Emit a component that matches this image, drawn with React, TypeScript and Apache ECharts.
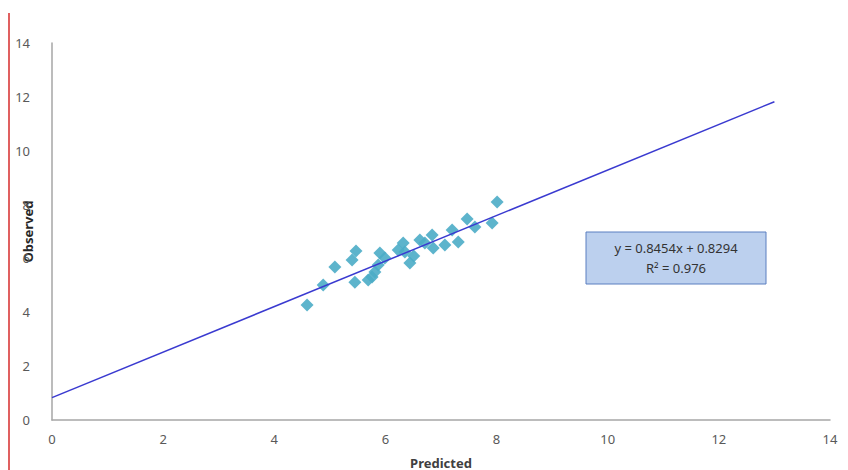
import React, { useEffect, useRef } from "react";
import * as echarts from "echarts";

const predicted = [
  4.59, 4.88, 5.09, 5.45, 5.40, 5.47, 5.69, 5.76, 5.81, 5.87, 5.90, 5.99, 6.23, 6.32,
  6.35, 6.44, 6.51, 6.62, 6.71, 6.84, 6.86, 7.07, 7.20, 7.31, 7.47, 7.61, 7.92, 8.01,
];
const observed = [
  4.27, 5.01, 5.68, 5.12, 5.94, 6.28, 5.20, 5.31, 5.50, 5.76, 6.20, 6.02, 6.31, 6.57,
  6.24, 5.83, 6.09, 6.68, 6.57, 6.87, 6.39, 6.50, 7.06, 6.61, 7.46, 7.17, 7.32, 8.10,
];
const slope = 0.8454;
const intercept = 0.8294;
const rSquared = 0.976;
const trendStart = 0;
const trendEnd = 13;
const axisTicks = [0, 2, 4, 6, 8, 10, 12, 14];

export default function App() {
  const ref = useRef<HTMLDivElement>(null);
  useEffect(() => {
    if (!ref.current) return;
    const chart = echarts.init(ref.current, null, { renderer: "svg" });
    const font = "'Noto Sans', 'Liberation Sans', sans-serif";
    const axisMin = axisTicks[0];
    const axisMax = axisTicks[axisTicks.length - 1];
    const step = axisTicks[1] - axisTicks[0];
    chart.setOption({
      animation: false,
      backgroundColor: "#ffffff",
      grid: { left: 52, right: 18, top: 43, bottom: 50, containLabel: false, outerBoundsMode: "none" },
      xAxis: {
        type: "value",
        min: axisMin,
        max: axisMax,
        interval: step,
        name: "Predicted",
        nameLocation: "middle",
        nameGap: 36,
        nameMoveOverlap: false,
        nameTextStyle: { fontFamily: font, fontSize: 13, fontWeight: "bold", color: "#404040" },
        axisLine: { show: true, lineStyle: { color: "#a6a6a6", width: 1.5 } },
        axisTick: { show: false },
        splitLine: { show: false },
        axisLabel: { fontFamily: font, fontSize: 13, color: "#595959", margin: 12 },
      },
      yAxis: {
        type: "value",
        min: axisMin,
        max: axisMax,
        interval: step,
        name: "Observed",
        nameLocation: "middle",
        nameGap: 18,
        nameRotate: 90,
        nameMoveOverlap: false,
        nameTextStyle: { fontFamily: font, fontSize: 13, fontWeight: "bold", color: "#262626" },
        axisLine: { show: true, lineStyle: { color: "#a6a6a6", width: 1.5 } },
        axisTick: { show: false },
        splitLine: { show: false },
        axisLabel: { fontFamily: font, fontSize: 13, color: "#595959", margin: 22 },
      },
      series: [
        {
          type: "line",
          data: [
            [trendStart, slope * trendStart + intercept],
            [trendEnd, slope * trendEnd + intercept],
          ],
          showSymbol: false,
          symbol: "none",
          lineStyle: { color: "#3a3ad0", width: 1.5 },
          z: 3,
        },
        {
          type: "scatter",
          data: predicted.map((x, i) => [x, observed[i]]),
          symbol: "diamond",
          symbolSize: 13,
          itemStyle: { color: "#4bacc6", opacity: 0.9 },
          z: 2,
        },
      ],
      graphic: [
        {
          type: "rect",
          left: 8,
          top: 13,
          shape: { width: 2, height: 457 },
          style: { fill: "#e06060" },
        },
        {
          type: "rect",
          shape: { x: 586, y: 232, width: 180, height: 52 },
          style: { fill: "#bcd0ee", stroke: "#5b7fc0", lineWidth: 1 },
        },
        {
          type: "text",
          x: 676,
          y: 248,
          style: {
            text: `y = ${slope.toFixed(4)}x + ${intercept.toFixed(4)}`,
            fontFamily: font,
            fontSize: 13,
            fill: "#333333",
            align: "center",
            verticalAlign: "middle",
          },
        },
        {
          type: "text",
          x: 676,
          y: 268,
          style: {
            text: `R² = ${rSquared}`,
            fontFamily: font,
            fontSize: 13,
            fill: "#333333",
            align: "center",
            verticalAlign: "middle",
          },
        },
      ],
    });
    return () => chart.dispose();
  }, []);
  return (
    <div
      ref={ref}
      style={{ position: "fixed", left: 0, top: 0, width: 848, height: 470 }}
    />
  );
}
